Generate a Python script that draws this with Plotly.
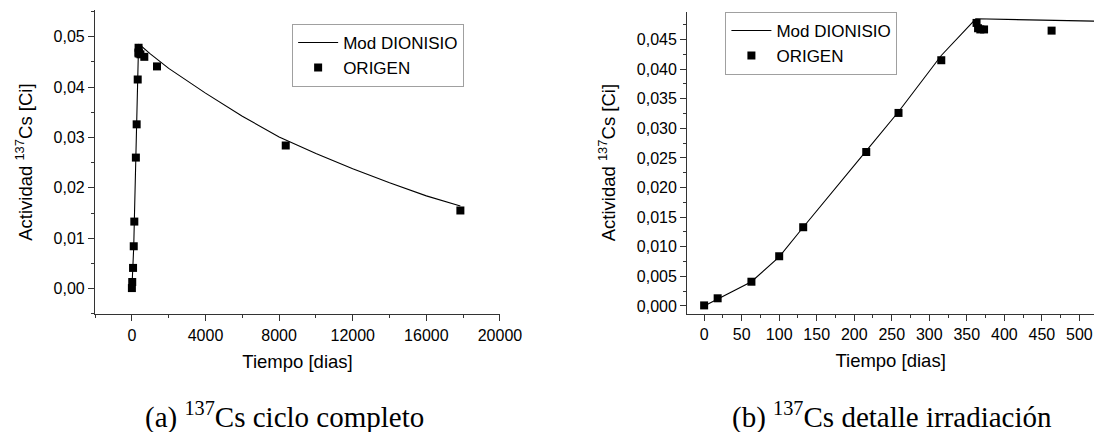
import plotly.graph_objects as go

# Mod DIONISIO curve (days, Ci)
dion_t = [0, 18, 63, 100, 132, 216, 259, 316, 362, 520, 1000, 2000, 4000,
          6000, 8000, 10000, 12000, 14000, 16000, 17850]
dion_a = [0.0, 0.0012, 0.0041, 0.0083, 0.0133, 0.0262, 0.0328, 0.0423, 0.0485,
          0.0481, 0.0466, 0.0437, 0.0388, 0.0342, 0.0301, 0.0268, 0.0238,
          0.0210, 0.0184, 0.0164]

# ORIGEN points (days, Ci)
orig_t = [0, 18, 63, 100, 132, 216, 259, 316, 363, 365, 368, 373, 463, 675,
          1365, 8360, 17850]
orig_a = [0.0001, 0.0013, 0.0041, 0.0084, 0.0133, 0.0260, 0.0326, 0.0415,
          0.0478, 0.0469, 0.0467, 0.0467, 0.0465, 0.0460, 0.0441, 0.0284,
          0.0155]

line_name = "Mod DIONISIO"
pts_name = "ORIGEN"
x_title = "Tiempo [dias]"
y_title = "Actividad <sup>137</sup>Cs [Ci]"
cap_a = "(a) <sup>137</sup>Cs ciclo completo"
cap_b = "(b) <sup>137</sup>Cs detalle irradiación"

W, H = 1116, 432
SANS = "Liberation Sans, Arial, sans-serif"
SERIF = "Liberation Serif, Times New Roman, serif"

fig = go.Figure()
for xa, ya, lg in (("x", "y", "legend"), ("x2", "y2", "legend2")):
    fig.add_trace(go.Scatter(x=dion_t, y=dion_a, mode="lines", name=line_name,
                             line=dict(color="black", width=1.1),
                             xaxis=xa, yaxis=ya, legend=lg, cliponaxis=True))
    fig.add_trace(go.Scatter(x=orig_t, y=orig_a, mode="markers", name=pts_name,
                             marker=dict(symbol="square", size=8, color="black"),
                             xaxis=xa, yaxis=ya, legend=lg, cliponaxis=False))

axis_common = dict(showgrid=False, zeroline=False, showline=True,
                   linecolor="#333", linewidth=1.3, ticks="outside",
                   ticklen=6, tickwidth=1.2, tickcolor="#333",
                   tickfont=dict(family=SANS, size=16, color="black"),
                   mirror=False)

fig.update_layout(
    width=W, height=H, margin=dict(l=0, r=0, t=0, b=0),
    paper_bgcolor="white", plot_bgcolor="white",
    separators=",.",
    font=dict(family=SANS, color="black"),
    xaxis=dict(domain=[97 / W, 510 / W], range=[-2000, 20000], dtick=4000,
               tick0=0, tickformat="d", anchor="y",
               minor=dict(dtick=2000, ticklen=3, tickcolor="#333", ticks="outside"),
               title=dict(text=x_title, font=dict(family=SANS, size=18.5), standoff=12),
               **axis_common),
    yaxis=dict(domain=[1 - 315 / H, 1 - 10 / H], range=[-0.0051, 0.0553],
               dtick=0.01, tick0=0, tickformat=".2f", anchor="x",
               minor=dict(dtick=0.005, ticklen=3, tickcolor="#333", ticks="outside"),
               title=dict(text=y_title, font=dict(family=SANS, size=18.5), standoff=16),
               **axis_common),
    xaxis2=dict(domain=[701 / W, 1.0], range=[-22.6, 519.5], dtick=50,
                tick0=0, tickformat="d", anchor="y2",
                minor=dict(dtick=25, ticklen=3, tickcolor="#333", ticks="outside"),
                title=dict(text=x_title, font=dict(family=SANS, size=18.5), standoff=12),
                **axis_common),
    yaxis2=dict(domain=[1 - 314.3 / H, 1 - 11.7 / H], range=[-0.00128, 0.0497],
                dtick=0.005, tick0=0, tickformat=".3f", anchor="x2",
                minor=dict(dtick=0.0025, ticklen=3, tickcolor="#333", ticks="outside"),
                title=dict(text=y_title, font=dict(family=SANS, size=18.5), standoff=16),
                **axis_common),
    legend=dict(x=298 / W, y=1 - 24 / H, xanchor="left", yanchor="top",
                bordercolor="#a0a0a0", borderwidth=1, bgcolor="white",
                font=dict(family=SANS, size=17), itemwidth=40,
                tracegroupgap=0),
    legend2=dict(x=740 / W, y=1 - 12 / H, xanchor="left", yanchor="top",
                 bordercolor="#a0a0a0", borderwidth=1, bgcolor="white",
                 font=dict(family=SANS, size=17), itemwidth=40,
                 tracegroupgap=0),
    annotations=[
        dict(text=cap_a, x=290 / W, y=1 - 416 / H, xref="paper", yref="paper",
             showarrow=False, xanchor="center", yanchor="middle",
             font=dict(family=SERIF, size=29, color="black")),
        dict(text=cap_b, x=910 / W, y=1 - 416 / H, xref="paper", yref="paper",
             showarrow=False, xanchor="center", yanchor="middle",
             font=dict(family=SERIF, size=29, color="black")),
    ],
)

fig.write_html("out.html")
